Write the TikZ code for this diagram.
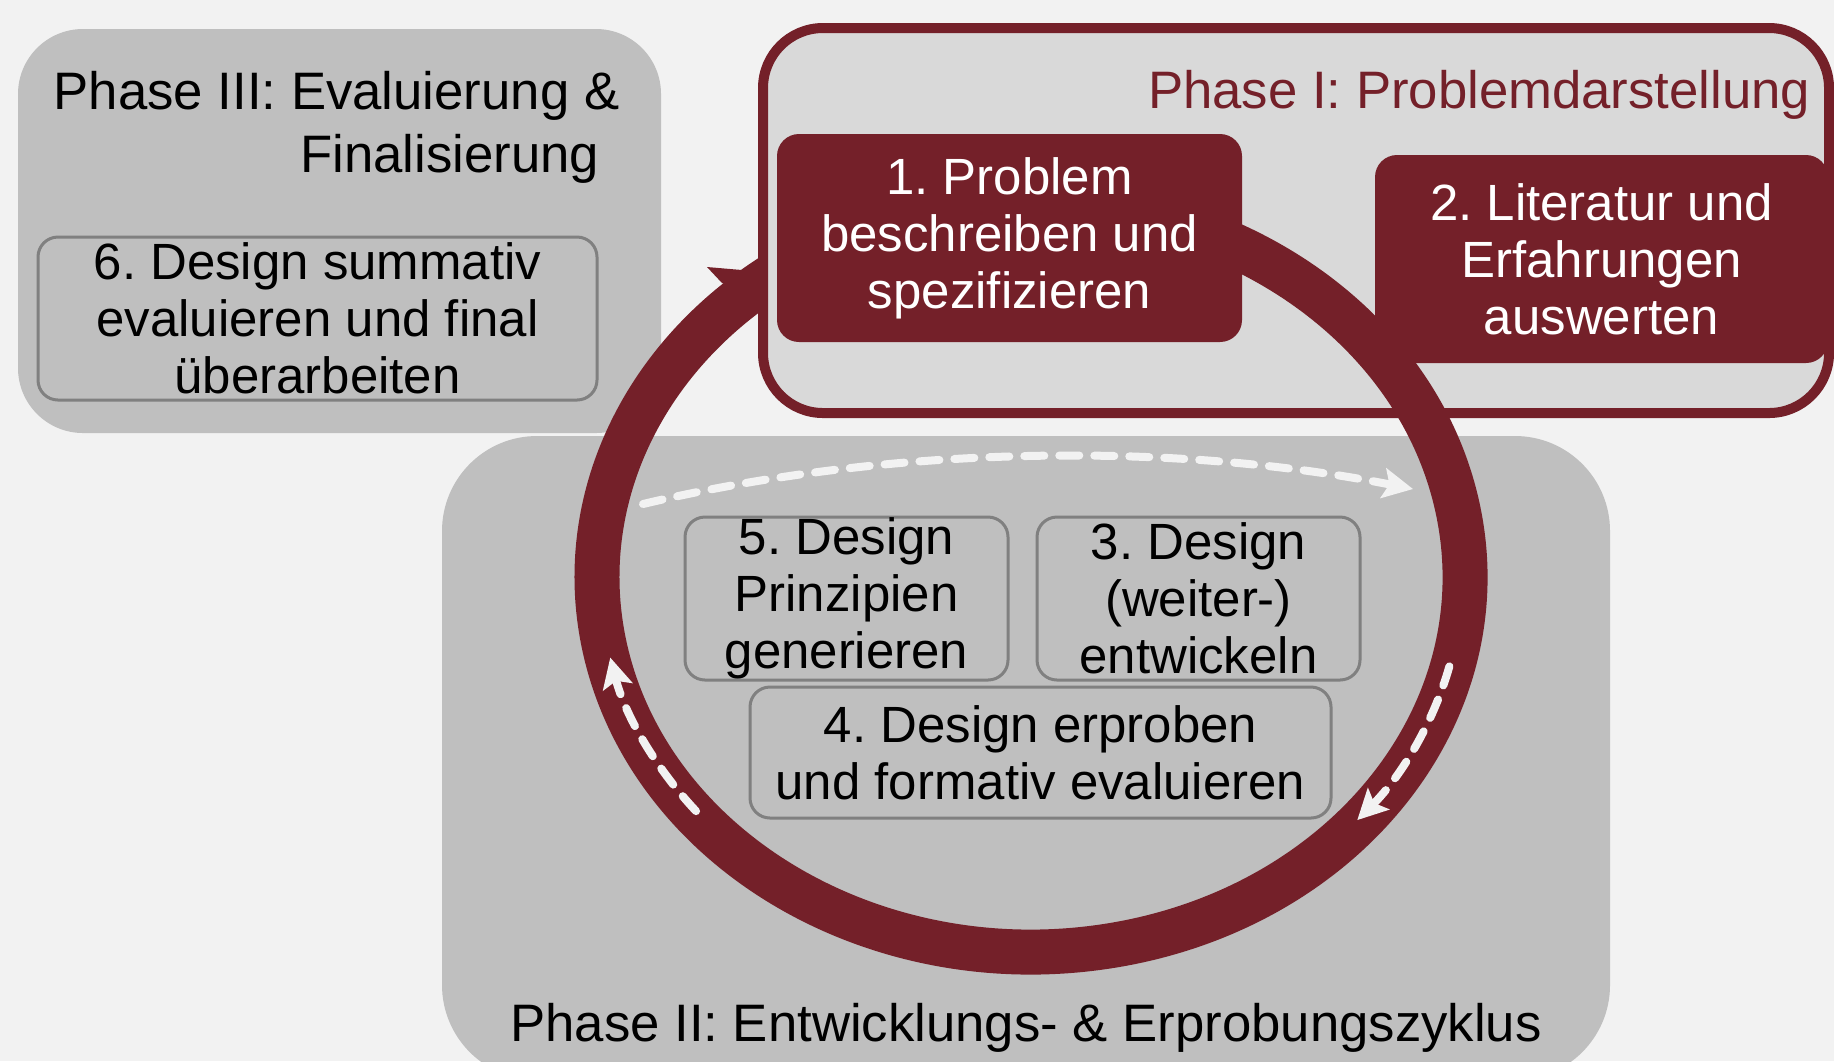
\documentclass[tikz,border=0pt]{standalone}
\usepackage{fontspec}
\setmainfont{Liberation Sans}
\usetikzlibrary{arrows.meta}
\definecolor{unired}{RGB}{116,32,41}
\definecolor{phasegray}{RGB}{191,191,191}
\definecolor{paleshade}{RGB}{217,217,217}
\definecolor{bgwhite}{RGB}{242,242,242}
\definecolor{edgegray}{RGB}{128,128,128}
\newcommand{\boxtextfont}{\fontsize{14.5pt}{16.2pt}\selectfont}
\newcommand{\phasefont}{\fontsize{15pt}{17.9pt}\selectfont}
\frenchspacing

\begin{document}
\begin{tikzpicture}
\tikzstyle{every node}+=[inner sep=0pt]
\tikzstyle{phasebox}=[rounded corners=0.65cm, fill=phasegray]
\tikzstyle{redbox}=[rounded corners=0.22cm, fill=unired, text=white, align=center, font=\boxtextfont]
\tikzstyle{greybox}=[rounded corners=0.2cm, draw=edgegray, line width=0.03cm, fill=phasegray, align=center, font=\boxtextfont]
\tikzstyle{dasharrow}=[draw=bgwhite, line width=0.08cm, line cap=round, dash pattern=on 0.2cm off 0.15cm, -{Stealth[length=0.3cm,width=0.3cm,inset=0.06cm,fill=bgwhite]}]
\useasboundingbox (0,0) rectangle (18.34,-10.61);
\clip (0,0) rectangle (18.34,-10.61);
\fill[bgwhite] (0,0) rectangle (18.34,-10.61);
% phase III
\node[phasebox, minimum width=6.43cm, minimum height=4.04cm] (phase3) at (3.395,-2.31) {};
\node[anchor=north east, align=right, font=\phasefont] (title3) at (6.2,-0.71) {Phase III: Evaluierung \&\\Finalisierung\hspace*{0.2cm}};
\node[greybox, minimum width=5.59cm, minimum height=1.63cm] (step6) at (3.175,-3.185) {6. Design summativ\\evaluieren und final\\überarbeiten};
% phase II
\node[phasebox, rounded corners=0.95cm, minimum width=11.68cm, minimum height=6.44cm] (phase2) at (10.26,-7.58) {};
\node[anchor=base, font=\phasefont] (title2) at (10.26,-10.41) {Phase II: Entwicklungs- \& Erprobungszyklus};
% phase I
\node[draw=unired, line width=0.1cm, fill=paleshade, rounded corners=0.6cm, minimum width=10.66cm, minimum height=3.85cm] (phase1) at (12.96,-2.205) {};
\node[anchor=base east, text=unired, font=\phasefont] (title1) at (18.11,-1.08) {Phase I: Problemdarstellung};
% cycle
\coordinate (hub) at (10.31,-5.77);
\begin{scope}
\clip (0,0) -- (7.64,0) -- (7.64,-4.3) -- (10,-4.3) -- (10,0) -- (18.34,0) -- (18.34,-10.61) -- (0,-10.61) -- cycle;
\draw[unired, line width=0.45cm] (hub) ++(100:4.34 and 3.75) arc[start angle=100, end angle=-236, x radius=4.34, y radius=3.75];
\fill[unired] (7.07,-2.67) -- (8.0,-2.75) -- (7.70,-3.0) -- (7.22,-2.83) -- cycle;
\end{scope}
\node[redbox, minimum width=4.65cm, minimum height=2.08cm] (step1) at (10.095,-2.38) {1. Problem\\beschreiben und\\spezifizieren};
\node[redbox, minimum width=4.53cm, minimum height=2.08cm] (step2) at (16.015,-2.59) {2. Literatur und\\Erfahrungen\\auswerten};
\node[greybox, minimum width=3.23cm, minimum height=1.63cm] (step5) at (8.465,-5.985) {5. Design\\Prinzipien\\generieren};
\node[greybox, minimum width=3.23cm, minimum height=1.63cm] (step3) at (11.985,-5.985) {3. Design\\(weiter-)\\entwickeln};
\node[greybox, minimum width=5.81cm, minimum height=1.31cm] (step4) at (10.405,-7.525) {4. Design erproben\\und formativ evaluieren};
% dashed arrows
\coordinate (jumpstart) at (6.43,-5.04);
\coordinate (jumpend) at (14.13,-4.89);
\draw[dasharrow] (jumpstart) .. controls (9.0,-4.43) and (11.8,-4.43) .. (jumpend);
\draw[dasharrow] (hub) ++(219:4.31 and 3.72) arc[start angle=219, end angle=192.5, x radius=4.31, y radius=3.72];
\draw[dasharrow] (hub) ++(-13.9:4.31 and 3.72) arc[start angle=-13.9, end angle=-40.8, x radius=4.31, y radius=3.72];
\end{tikzpicture}
\end{document}
